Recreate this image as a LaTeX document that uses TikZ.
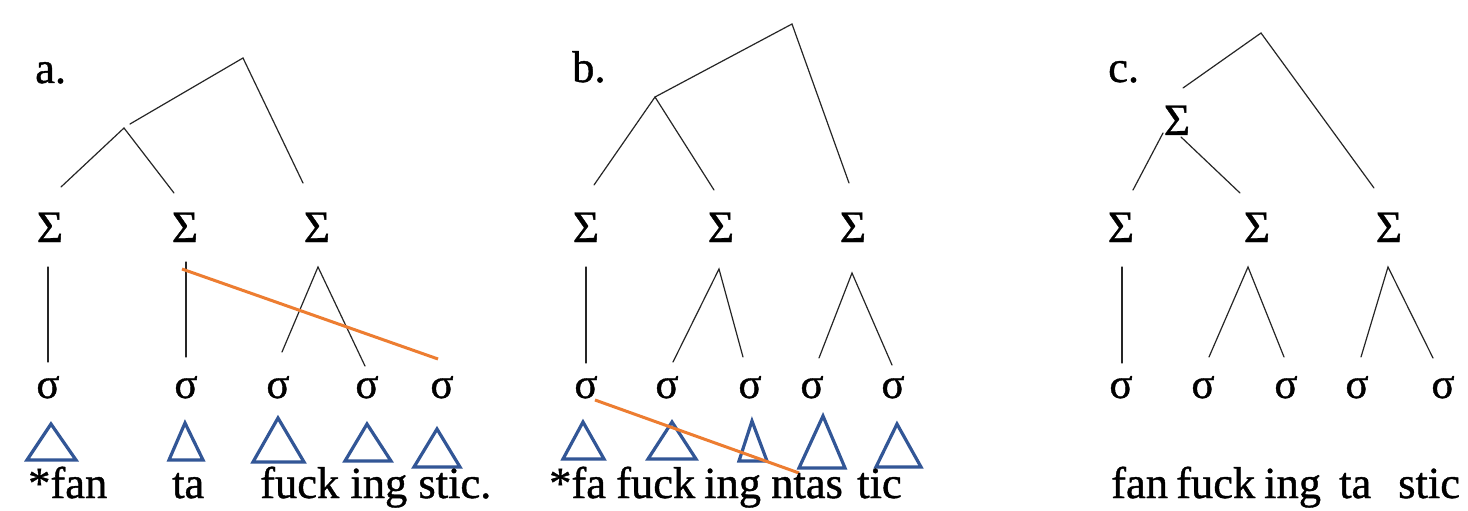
\documentclass[tikz,border=0pt]{standalone}
\usepackage{fontspec}
\setmainfont{Liberation Serif}[BoldFont=Liberation Serif, BoldFeatures={FakeBold=0.9}]
\definecolor{cutline}{RGB}{237,125,49}
\definecolor{tribl}{RGB}{50,86,150}
\begin{document}
\begin{tikzpicture}[x=1pt,y=-1pt,
  word/.style={font=\fontsize{44.5}{50}\selectfont\bfseries, inner sep=0pt, anchor=base west},
  sym/.style={font=\fontsize{45}{50}\selectfont\bfseries, inner sep=0pt, anchor=base},
  syl/.style={font=\fontsize{43}{50}\selectfont\bfseries, inner sep=0pt, anchor=base},
  branch/.style={draw=black!85, line width=1.2pt, line cap=round},
  cut/.style={draw=cutline, line width=3pt},
  tri/.style={draw=tribl, line width=3.2pt, line join=miter}]
\clip (0,0) rectangle (1468,511);
\fill[white] (0,0) rectangle (1468,511);

% ---------------- panel a ----------------
\node[word] (la) at (35,83) {a.};
\foreach \n/\x in {1/50,2/185,3/317} \node[sym] (aF\n) at (\x,242) {Σ};
\foreach \n/\x in {1/48,2/186,3/278,4/367,5/442} \node[syl] (aS\n) at (\x,398) {σ};
\coordinate (aTop) at (243,58);
\coordinate (aTopL) at (130,124);
\coordinate (aTopR) at (303,183);
\coordinate (aMid) at (124,128);
\coordinate (aMidL) at (61,187);
\coordinate (aMidR) at (174,193);
\draw[branch] (aTopL) -- (aTop) -- (aTopR);
\draw[branch] (aMidL) -- (aMid) -- (aMidR);
\coordinate (aU1) at (48,267);  \coordinate (aD1) at (48,362);
\coordinate (aU2) at (186,262); \coordinate (aD2) at (186,357);
\coordinate (aU3) at (318,267); \coordinate (aD3) at (282,352); \coordinate (aD4) at (365,366);
\draw[branch] (aU1) -- (aD1);
\draw[branch] (aU2) -- (aD2);
\draw[branch] (aD3) -- (aU3) -- (aD4);
\coordinate (aCutA) at (182,269);
\coordinate (aCutB) at (438,359);
\draw[cut] (aCutA) -- (aCutB);
\draw[tri] (27,460) -- (51,424) -- (76,460) -- cycle;
\draw[tri] (169,460) -- (185,423) -- (203,460) -- cycle;
\draw[tri] (253,462) -- (278,418) -- (304,462) -- cycle;
\draw[tri] (345,461) -- (367,424) -- (391,461) -- cycle;
\draw[tri] (414,467) -- (437,429) -- (460,467) -- cycle;
\node[word] (aW1) at (28,498) {*fan};
\node[word] (aW2) at (172,498) {ta};
\node[word] (aW3) at (260,498) {fuck ing stic.};

% ---------------- panel b ----------------
\node[word] (lb) at (572,82) {b.};
\foreach \n/\x in {1/586,2/721,3/853} \node[sym] (bF\n) at (\x,242) {Σ};
\foreach \n/\x in {1/586,2/667,3/750,4/812,5/893} \node[syl] (bS\n) at (\x,398) {σ};
\coordinate (bTop) at (792,24);
\coordinate (bMid) at (655,97);
\coordinate (bTopR) at (849,183);
\coordinate (bMidL) at (594,185);
\coordinate (bMidR) at (714,190);
\draw[branch] (bMid) -- (bTop) -- (bTopR);
\draw[branch] (bMidL) -- (bMid) -- (bMidR);
\coordinate (bU1) at (586,267); \coordinate (bD1) at (586,363);
\coordinate (bU2) at (719,269); \coordinate (bD2) at (673,362); \coordinate (bD3) at (743,357);
\coordinate (bU3) at (852,273); \coordinate (bD4) at (819,358); \coordinate (bD5) at (892,365);
\draw[branch] (bU1) -- (bD1);
\draw[branch] (bD2) -- (bU2) -- (bD3);
\draw[branch] (bD4) -- (bU3) -- (bD5);
\draw[tri] (563,459) -- (583,422) -- (604,459) -- cycle;
\draw[tri] (648,459) -- (672,422) -- (696,459) -- cycle;
\draw[tri] (739,461) -- (752,421) -- (767,461) -- cycle;
\draw[tri] (799,468) -- (823,416) -- (845,468) -- cycle;
\draw[tri] (876,467) -- (897,424) -- (921,467) -- cycle;
\coordinate (bCutA) at (595,400);
\coordinate (bCutB) at (799,473);
\draw[cut] (bCutA) -- (bCutB);
\node[word] (bW1) at (549,498) {*fa};
\node[word] (bW2) at (616,498) {fuck};
\node[word] (bW3) at (704,498) {ing};
\node[word] (bW4) at (771,498) {ntas};
\node[word] (bW5) at (857,498) {tic};

% ---------------- panel c ----------------
\node[word] (lc) at (1108,82) {c.};
\node[sym] (cM) at (1177,135) {Σ};
\foreach \n/\x in {1/1121,2/1257,3/1389} \node[sym] (cF\n) at (\x,242) {Σ};
\foreach \n/\x in {1/1121,2/1203,3/1286,4/1357,5/1443} \node[syl] (cS\n) at (\x,398) {σ};
\coordinate (cTop) at (1261,33);
\coordinate (cTopL) at (1183,88);
\coordinate (cTopR) at (1374,188);
\draw[branch] (cTopL) -- (cTop) -- (cTopR);
\coordinate (cML) at (1163,133); \coordinate (cMLd) at (1133,190);
\coordinate (cMR) at (1181,137); \coordinate (cMRd) at (1240,193);
\draw[branch] (cML) -- (cMLd);
\draw[branch] (cMR) -- (cMRd);
\coordinate (cU1) at (1122,267); \coordinate (cD1) at (1122,363);
\coordinate (cU2) at (1248,267); \coordinate (cD2) at (1209,357); \coordinate (cD3) at (1284,357);
\coordinate (cU3) at (1388,267); \coordinate (cD4) at (1361,357); \coordinate (cD5) at (1433,358);
\draw[branch] (cU1) -- (cD1);
\draw[branch] (cD2) -- (cU2) -- (cD3);
\draw[branch] (cD4) -- (cU3) -- (cD5);
\node[word] (cW1) at (1111,498) {fan};
\node[word] (cW2) at (1176,498) {fuck};
\node[word] (cW3) at (1264,498) {ing};
\node[word] (cW4) at (1339,498) {ta};
\node[word] (cW5) at (1398,498) {stic};
\end{tikzpicture}
\end{document}
